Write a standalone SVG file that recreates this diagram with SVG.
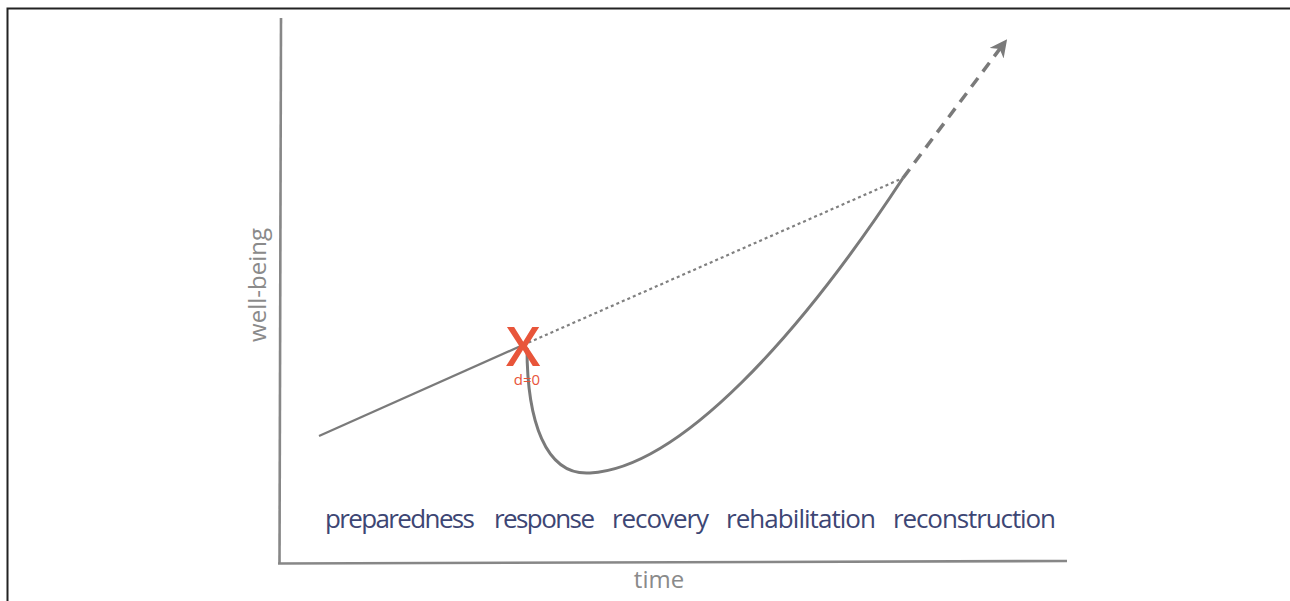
<svg xmlns="http://www.w3.org/2000/svg" width="1290" height="601" viewBox="0 0 1290 601">
<style>
.axis{fill:none;stroke:#878787;stroke-width:2.6}
.curve{fill:none;stroke:#7a7a7a;stroke-width:3}
.phase{font-family:"Open Sans","Liberation Sans",sans-serif;font-size:26px;fill:#3d4674}
.axlabel{font-family:"Open Sans","Liberation Sans",sans-serif;font-size:24px;fill:#8a8a8a}
</style>
<defs>
<marker id="arr" viewBox="0 0 10 10" refX="8" refY="5" markerWidth="5" markerHeight="5" orient="auto" markerUnits="strokeWidth">
<path d="M0,0 L10,5 L0,10 L3,5 z" fill="#7a7a7a"/>
</marker>
</defs>
<rect width="1290" height="601" fill="#fff"/>
<path d="M7.5,601 V8.5 H1290" fill="none" stroke="#222" stroke-width="2"/>
<g id="axes">
<path class="axis" d="M281,18 L279.5,563.5"/>
<path class="axis" d="M278,563.5 L1067,561"/>
</g>
<g id="connectors">
<path d="M319,436 L523,345" fill="none" stroke="#7a7a7a" stroke-width="2.2"/>
<path d="M523,345 L903,178" fill="none" stroke="#808080" stroke-width="2.2" stroke-dasharray="3,3"/>
<path class="curve" d="M527,348 C527,420 545,476 590,473 C680,468 800,335 903,178"/>
<path d="M903,178 L1005,42" fill="none" stroke="#7a7a7a" stroke-width="3.5" stroke-dasharray="11,8" marker-end="url(#arr)"/>
</g>
<g id="event">
<text x="523" y="366" text-anchor="middle" font-family="Open Sans, Liberation Sans, sans-serif" font-size="55" font-weight="600" fill="#e8553a">X</text>
<text x="527" y="385" text-anchor="middle" font-family="Open Sans, Liberation Sans, sans-serif" font-size="15" fill="#e8553a">d=0</text>
</g>
<g id="phases">
<text class="phase" x="325" y="528" textLength="150">preparedness</text>
<text class="phase" x="494" y="528" textLength="101">response</text>
<text class="phase" x="612" y="528" textLength="97">recovery</text>
<text class="phase" x="726" y="528" textLength="150">rehabilitation</text>
<text class="phase" x="893" y="528" textLength="163">reconstruction</text>
</g>
<g id="labels">
<text class="axlabel" x="659" y="588" text-anchor="middle">time</text>
<text class="axlabel" transform="translate(266,285) rotate(-90)" text-anchor="middle">well-being</text>
</g>
</svg>
